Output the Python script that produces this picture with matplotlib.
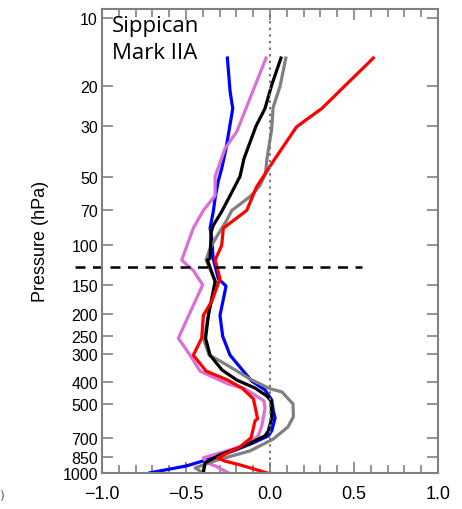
import matplotlib
matplotlib.use("Agg")
import matplotlib.pyplot as plt
from matplotlib.ticker import FixedLocator, NullFormatter, MultipleLocator

# profiles: x value vs pressure (hPa)
blue_p = [15, 21, 25, 37.5, 46, 52, 62, 71, 84, 93, 114, 140, 151, 203, 251, 304,
          372, 395, 432, 478, 535, 574, 654, 688, 738, 801, 886, 932, 1000]
blue_x = [-0.254, -0.238, -0.222, -0.262, -0.288, -0.308, -0.327, -0.338, -0.357, -0.347,
          -0.339, -0.308, -0.262, -0.298, -0.282, -0.238, -0.139, -0.109, -0.030, 0.010,
          0.020, 0.030, 0.010, -0.010, -0.099, -0.218, -0.397, -0.496, -0.714]

violet_p = [15, 31.6, 37.5, 49.8, 60.4, 70.2, 84, 110.7, 116, 129, 149, 256, 304, 357,
            407, 427, 483, 519, 622, 688, 753, 801, 860, 904, 932, 1000]
violet_x = [-0.024, -0.198, -0.268, -0.327, -0.327, -0.397, -0.457, -0.516, -0.526, -0.457,
            -0.401, -0.546, -0.476, -0.417, -0.250, -0.149, -0.036, -0.030, -0.049, -0.070,
            -0.139, -0.258, -0.397, -0.377, -0.327, -0.248]

black_p = [15, 19.7, 25, 29.8, 41.5, 49.8, 60.4, 71, 81.7, 87.7, 114, 116, 144, 203, 256,
           304, 353, 391, 424, 459, 483, 574, 654, 688, 753, 834, 904, 1000]
black_x = [0.065, 0.010, -0.030, -0.083, -0.155, -0.179, -0.238, -0.288, -0.338, -0.351,
           -0.357, -0.373, -0.327, -0.367, -0.384, -0.357, -0.286, -0.198, -0.089, -0.020,
           0.006, 0.010, -0.010, -0.030, -0.139, -0.298, -0.387, -0.397]

gray_p = [15, 19.9, 24.8, 30.7, 41.5, 48.3, 54.6, 61, 70.2, 77.6, 91.3, 103, 116, 149, 189,
          261, 304, 319, 340, 387, 427, 441, 498, 567, 628, 710, 801, 877, 951, 1000]
gray_x = [0.094, 0.060, 0.018, 0.010, -0.018, -0.027, -0.060, -0.119, -0.228, -0.258,
          -0.317, -0.357, -0.381, -0.317, -0.361, -0.393, -0.363, -0.308, -0.244, -0.119,
          0.000, 0.071, 0.137, 0.139, 0.107, 0.020, -0.119, -0.310, -0.446, -0.399]

red_p = [15, 25, 30.1, 41.5, 47.3, 55.1, 70.2, 84, 100, 116, 140, 176, 203, 256, 304, 357,
         391, 424, 473, 579, 590, 702, 769, 860, 886, 923, 1000]
red_x = [0.615, 0.308, 0.158, 0.030, -0.020, -0.079, -0.139, -0.278, -0.288, -0.327, -0.298,
         -0.347, -0.397, -0.407, -0.457, -0.381, -0.253, -0.167, -0.099, -0.074, -0.089,
         -0.113, -0.179, -0.310, -0.274, -0.179, -0.020]

p_ticks = [10, 20, 30, 50, 70, 100, 150, 200, 250, 300, 400, 500, 700, 850, 1000]
tropopause = 125

fig = plt.figure(figsize=(4.62, 5.10), dpi=100)
ax = fig.add_axes([0.221, 0.071, 0.727, 0.910])

lw = 2.3
ax.plot(blue_x, blue_p, color="#0000ff", lw=lw)
ax.plot(violet_x, violet_p, color="#da70d6", lw=lw)
ax.plot(gray_x, gray_p, color="#808080", lw=lw)
ax.plot(black_x, black_p, color="black", lw=lw)
ax.plot(red_x, red_p, color="#ff0000", lw=lw)

ax.axvline(0, color="#707070", ls=(0, (1.2, 2.2)), lw=1.4)
ax.plot([-1.16, 0.55], [tropopause, tropopause], color="black", lw=1.8,
        ls=(0, (4, 3)), clip_on=False)

ax.set_yscale("log")
ax.set_ylim(1000, 9.1)
ax.set_xlim(-1.0, 1.0)
ax.yaxis.set_major_locator(FixedLocator(p_ticks))
ax.yaxis.set_minor_locator(FixedLocator([]))
ax.set_yticklabels([str(t) for t in p_ticks])
ax.yaxis.set_minor_formatter(NullFormatter())
ax.xaxis.set_major_locator(MultipleLocator(0.5))
ax.xaxis.set_minor_locator(MultipleLocator(0.1))
ax.xaxis.set_major_formatter(plt.FuncFormatter(lambda v, _: f"{v:.1f}".replace("-", "\u2212")))

for s in ax.spines.values():
    s.set_color("#808080")
    s.set_linewidth(1.5)
ax.tick_params(which="both", direction="in", top=True, right=True, color="#808080", width=1.2)
ax.tick_params(which="major", length=8)
ax.tick_params(which="minor", length=6)
ax.tick_params(axis="x", labelsize=13, pad=9)
ax.tick_params(axis="y", labelsize=11.5, pad=3)
for lab in ax.get_xticklabels() + ax.get_yticklabels():
    lab.set_family("Liberation Sans")

ax.set_ylabel("Pressure (hPa)", fontsize=13, family="Liberation Sans", labelpad=10)

ax.text(0.028, 0.987, "Sippican\nMark IIA", transform=ax.transAxes, ha="left", va="top",
        fontsize=16, family="Open Sans", linespacing=1.4)

fig.text(0.0, 0.027, ")", fontsize=9, color="#606060", ha="left", va="center")

plt.savefig("out.png", dpi=100)
